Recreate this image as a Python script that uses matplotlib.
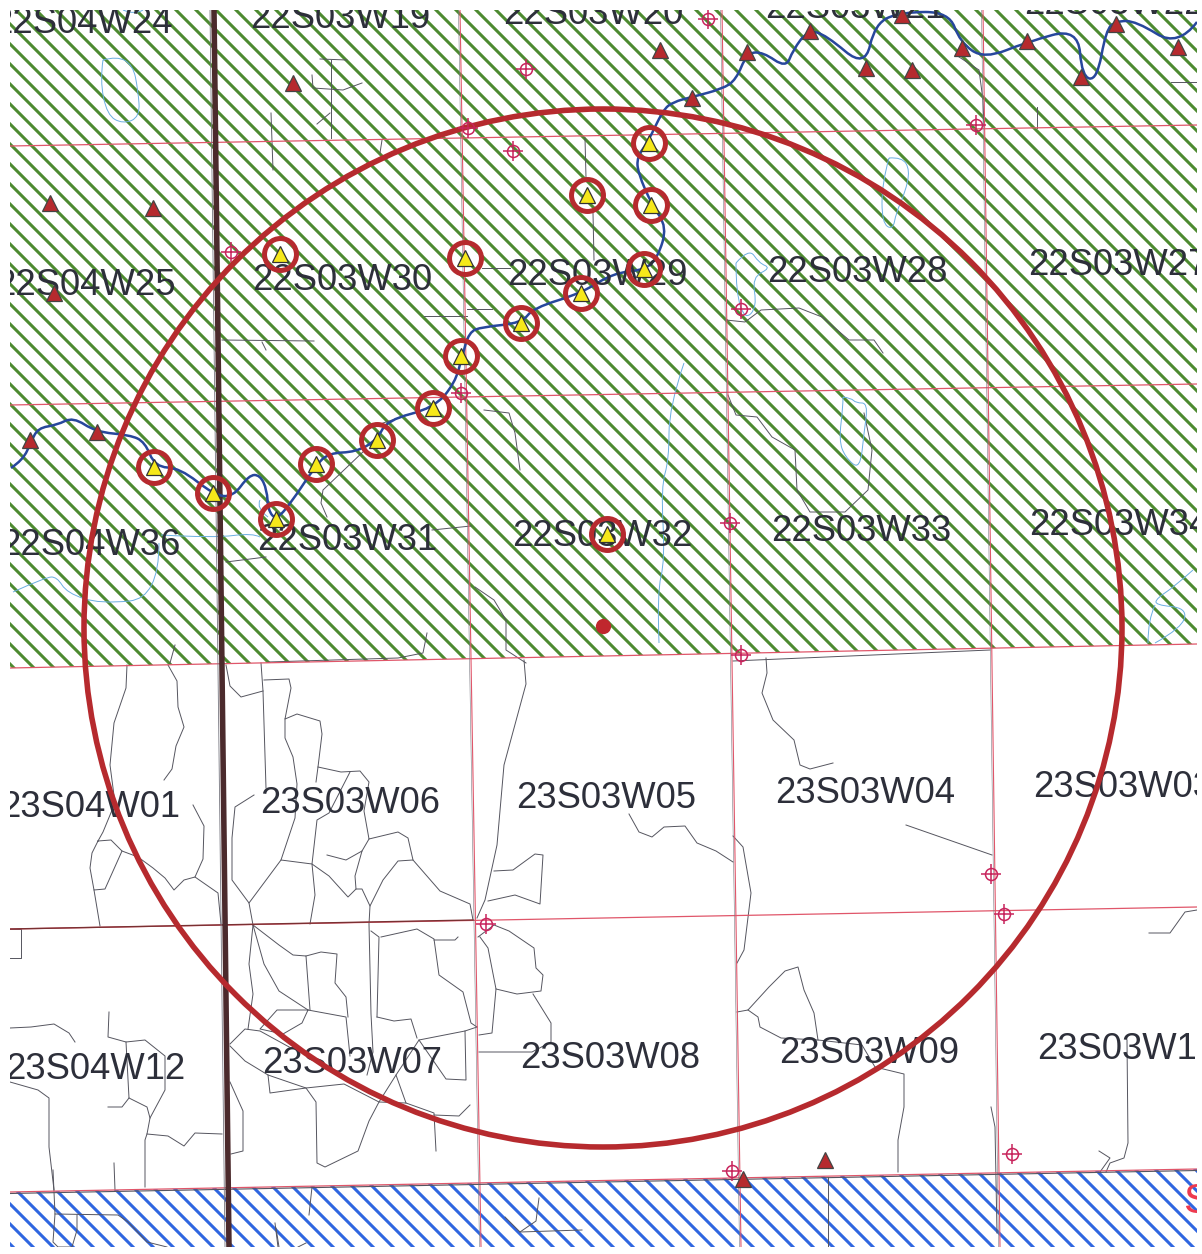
import numpy as np
import matplotlib
matplotlib.use('Agg')
import matplotlib.pyplot as plt
from matplotlib.patches import Circle, Polygon, PathPatch
from matplotlib.path import Path
from matplotlib.collections import LineCollection

#-page size and mapped area, in scan pixels
W, H = 1202, 1254
left, right, top, bottom = 10, 1197, 10, 1247

#-township labels: text, x of first letter, baseline
labels = [('22S04W24', -8, 33), ('22S03W19', 250, 28), ('22S03W20', 503, 24), ('22S03W21', 765, 18),
          ('22S03W22', 1024, 14), ('22S04W25', -5, 295), ('22S03W30', 252, 290), ('22S03W29', 507, 285),
          ('22S03W28', 767, 282), ('22S03W27', 1028, 275), ('22S04W36', 0, 555), ('22S03W31', 257, 550),
          ('22S03W32', 512, 546), ('22S03W33', 771, 541), ('22S03W34', 1029, 535), ('23S04W01', 0, 817),
          ('23S03W06', 260, 813), ('23S03W05', 516, 808), ('23S03W04', 775, 803), ('23S03W03', 1033, 797),
          ('23S04W12', 5, 1079), ('23S03W07', 262, 1073), ('23S03W08', 520, 1068), ('23S03W09', 779, 1063),
          ('23S03W10', 1037, 1059)]

#-wells inside the review circle
wells_x = [154, 213, 276, 316, 377, 433, 461, 521, 581, 644, 651, 649, 587, 465, 280, 607]
wells_y = [467, 493, 519, 464, 440, 408, 356, 323, 293, 269, 205, 143, 195, 258, 254, 534]
#-wells outside
other_x = [293, 50, 153, 54, 30, 97, 660, 692, 747, 810, 866, 912, 902, 962, 1027, 1081, 1116, 1178, 743, 825]
other_y = [83, 203, 208, 293, 440, 432, 50, 98, 52, 31, 68, 70, 15, 48, 41, 77, 24, 47, 1179, 1160]
#-target symbols
target_x = [708, 526, 468, 513, 976, 231, 741, 461, 730, 741, 991, 1004, 486, 732, 1012]
target_y = [19, 69, 128, 151, 125, 252, 309, 393, 523, 655, 874, 914, 924, 1171, 1154]

circle_x, circle_y, circle_r = 603, 628, 519
site_x, site_y = 603, 626

#-township and section lines, ((x0, y0), (x1, y1))
sect_h = [((10, 146), (1197, 125)), ((10, 405), (1197, 384)), ((10, 668), (1197, 644)),
          ((10, 929), (1197, 907)), ((10, 1192), (1197, 1169))]
sect_v = [((460, 10), (481, 1247)), ((722, 10), (741, 1247)), ((983, 10), (1000, 1247))]
county_line = ((214, 10), (229, 1247))
dark_road = ((10, 929), (473, 920))

green_area = [(10, 10), (1197, 10), (1197, 644), (10, 668)]
blue_area = [(10, 1192), (1197, 1169), (1197, 1247), (10, 1247)]

river = [(11, 468), (23, 460), (31, 442), (38, 428), (57, 425), (73, 417), (96, 432), (130, 435), (145, 442),
         (155, 467), (180, 468), (214, 495), (233, 497), (249, 475), (260, 475), (267, 490), (268, 510), (276, 520),
         (291, 503), (316, 465), (329, 453), (356, 452), (377, 440), (387, 420), (434, 408), (455, 383), (462, 357),
         (469, 332), (482, 327), (522, 323), (533, 308), (582, 293), (613, 273), (645, 270), (658, 257), (667, 227),
         (652, 205), (638, 173), (637, 157), (648, 142), (663, 110), (673, 102), (692, 97), (722, 89), (736, 80),
         (747, 53), (763, 52), (786, 68), (793, 50), (808, 30), (826, 35), (865, 68), (875, 23), (902, 12), (949, 12),
         (960, 42), (984, 59), (1027, 42), (1078, 28), (1082, 77), (1097, 80), (1106, 30), (1116, 21), (1136, 21),
         (1178, 47), (1197, 22)]

roads = [
    [(127, 665), (126, 688), (114, 723), (110, 765), (115, 803), (103, 832), (98, 841)],
    [(98, 841), (92, 853), (90, 868), (94, 890), (105, 889), (122, 851), (111, 840), (98, 841)],
    [(94, 890), (100, 926)],
    [(122, 851), (138, 857), (153, 868), (165, 878), (174, 890), (184, 880), (195, 877), (218, 893), (221, 924)],
    [(195, 877), (203, 859), (204, 826), (193, 805)],
    [(168, 665), (177, 681), (178, 707), (184, 727), (176, 746), (172, 769), (164, 780)],
    [(226, 665), (230, 686), (241, 697), (263, 691)],
    [(261, 663), (263, 691), (266, 788)],
    [(264, 680), (289, 679), (291, 688), (285, 719), (297, 714), (320, 721), (322, 734), (318, 767), (316, 782)],
    [(285, 719), (285, 738), (293, 757), (297, 784), (295, 818), (281, 860)],
    [(318, 767), (341, 772), (360, 771), (369, 782), (364, 811), (369, 839), (398, 832), (408, 838), (413, 860)],
    [(350, 772), (329, 813), (317, 820), (312, 864), (315, 895), (310, 924)],
    [(254, 795), (235, 807), (232, 838), (232, 880), (249, 903), (281, 860), (312, 864), (329, 876), (348, 897),
     (356, 889), (362, 889), (370, 906), (383, 880), (398, 861), (413, 860), (440, 891), (470, 904), (473, 920)],
    [(249, 903), (253, 925)],
    [(369, 839), (362, 851), (355, 876), (356, 889)],
    [(327, 855), (346, 860), (362, 851)],
    [(370, 906), (369, 924), (371, 1014), (373, 1052), (367, 1075)],
    [(253, 925), (249, 964), (253, 994), (248, 1029)],
    [(253, 925), (264, 964), (279, 991), (308, 1010), (346, 1017), (350, 1056)],
    [(253, 925), (279, 945), (293, 955), (306, 956), (310, 1010)],
    [(306, 956), (321, 952), (337, 954), (335, 983), (346, 997), (348, 1017)],
    [(308, 1010), (277, 1010), (260, 1029), (283, 1034), (302, 1023), (308, 1010)],
    [(230, 1044), (245, 1029), (260, 1031), (291, 1048)],
    [(230, 1046), (245, 1061), (268, 1075), (306, 1088), (344, 1084), (379, 1102), (406, 1103), (434, 1113), (436, 1151)],
    [(434, 1115), (459, 1116), (470, 1105)],
    [(268, 1075), (270, 1093), (306, 1088), (316, 1102), (317, 1163), (325, 1167), (358, 1151), (369, 1121), (379, 1102),
     (396, 1075), (406, 1103)],
    [(396, 1075), (419, 1040), (465, 1031), (477, 1027)],
    [(465, 1031), (466, 1080), (446, 1079), (419, 1040)],
    [(377, 1017), (394, 1021), (411, 1019), (417, 1038)],
    [(377, 1017), (379, 937), (371, 931)],
    [(381, 937), (417, 929), (434, 939), (439, 975), (463, 992), (471, 1023), (477, 1027)],
    [(434, 940), (455, 940), (458, 937)],
    [(10, 929), (21, 929), (21, 958), (10, 958)],
    [(10, 1028), (31, 1027), (54, 1024), (69, 1033), (75, 1042)],
    [(109, 1012), (108, 1037), (126, 1042), (145, 1040), (165, 1056), (165, 1090), (150, 1118), (147, 1134), (145, 1140),
     (145, 1187)],
    [(126, 1042), (129, 1098), (147, 1107), (150, 1118)],
    [(129, 1098), (122, 1107), (108, 1107)],
    [(147, 1134), (168, 1136), (184, 1146), (195, 1133), (222, 1134)],
    [(10, 1082), (38, 1090), (49, 1098), (49, 1147), (54, 1190)],
    [(114, 1163), (115, 1190)],
    [(230, 1082), (243, 1111), (243, 1151), (231, 1154)],
    [(524, 660), (526, 684), (504, 765), (497, 845), (485, 900), (477, 918)],
    [(494, 871), (513, 870), (535, 854), (543, 855), (540, 904), (515, 895), (488, 901)],
    [(478, 937), (494, 925), (509, 931), (534, 948), (536, 968), (543, 975), (541, 991), (517, 994), (496, 989),
     (488, 948), (480, 937)],
    [(496, 989), (492, 1033), (479, 1035)],
    [(533, 994), (551, 1023), (551, 1042), (532, 1052), (479, 1052)],
    [(766, 658), (767, 673), (762, 693), (773, 720), (794, 740), (800, 765), (810, 769), (833, 763)],
    [(629, 814), (639, 832), (652, 837), (664, 827), (685, 826), (697, 843), (716, 851), (733, 862)],
    [(733, 836), (743, 847), (751, 893), (744, 950), (737, 963)],
    [(906, 825), (992, 855)],
    [(737, 1012), (748, 1010), (769, 987), (785, 971), (798, 967), (804, 990), (814, 1013), (818, 1040)],
    [(748, 1010), (758, 1017), (760, 1027), (781, 1038), (818, 1040), (862, 1045), (875, 1067), (904, 1074), (904, 1107),
     (898, 1140), (898, 1172)],
    [(1127, 1040), (1128, 1143), (1124, 1158), (1110, 1163), (1106, 1172)],
    [(1099, 1151), (1110, 1158), (1100, 1172)],
    [(1149, 933), (1170, 933), (1185, 912), (1197, 910)],
    [(991, 1107), (995, 1127), (997, 1233)],
    [(828, 1177), (828, 1247)],
    [(222, 340), (314, 341)],
    [(262, 342), (266, 350)],
    [(424, 316), (467, 316)],
    [(467, 309), (490, 309)],
    [(226, 562), (266, 557)],
    [(327, 517), (321, 503), (323, 490), (365, 450)],
    [(383, 423), (432, 407)],
    [(432, 530), (471, 526)],
    [(484, 410), (509, 413), (515, 433), (520, 470)],
    [(475, 587), (494, 600), (506, 620), (506, 650), (526, 663)],
    [(427, 633), (423, 653), (398, 658), (268, 662)],
    [(175, 645), (170, 663)],
    [(331, 60), (331, 138)],
    [(312, 75), (313, 88), (343, 90), (362, 83)],
    [(317, 124), (330, 113)],
    [(271, 113), (273, 170)],
    [(382, 140), (380, 153)],
    [(320, 59), (347, 60)],
    [(585, 138), (586, 178)],
    [(593, 213), (594, 260)],
    [(482, 268), (510, 268)],
    [(468, 309), (492, 309)],
    [(726, 320), (745, 322), (761, 310), (799, 308), (822, 317), (849, 340), (874, 340), (883, 353)],
    [(728, 395), (736, 415), (757, 417), (772, 437), (795, 450), (797, 490), (810, 512), (845, 512), (868, 490),
     (872, 450), (864, 413)],
    [(956, 55), (979, 70), (983, 100), (984, 127)],
    [(1037, 107), (1037, 128)],
    [(1171, 82), (1197, 82)],
    [(733, 661), (990, 650)],
    #-inside the blue unit
    [(53, 1170), (55, 1214), (53, 1242), (58, 1247), (72, 1247), (77, 1230), (77, 1215)],
    [(55, 1214), (118, 1215), (128, 1222), (147, 1242), (167, 1247)],
    [(275, 1223), (278, 1247)],
    [(312, 1187), (309, 1215)],
    [(539, 1198), (536, 1221), (520, 1232), (505, 1217)],
    [(520, 1232), (582, 1230)],
    [(276, 1228), (279, 1247)],
    [(298, 1247), (306, 1243)],
]

lakes = [
    [(103, 60), (117, 56), (133, 65), (138, 90), (140, 117), (123, 124), (107, 115), (100, 80), (103, 60)],
    [(123, 10), (135, 15), (143, 10)],
    [(161, 535), (214, 538), (253, 533), (260, 537)],
    [(159, 543), (159, 598), (100, 604), (67, 593), (57, 577), (46, 577), (13, 592)],
    [(260, 500), (256, 508), (268, 517)],
    [(684, 363), (669, 407), (669, 460), (661, 487), (665, 560), (657, 593), (659, 643)],
    [(843, 397), (851, 398), (856, 403), (868, 403), (864, 433), (860, 470), (845, 457), (839, 440), (843, 407), (843, 397)],
    [(1193, 570), (1174, 587), (1157, 598), (1155, 605), (1187, 608), (1182, 628), (1155, 643)],
    [(1155, 605), (1148, 620), (1148, 643)],
    [(889, 158), (902, 157), (910, 170), (905, 193), (896, 213), (893, 230), (882, 223), (882, 183), (889, 158)],
    [(736, 263), (749, 248), (759, 263), (771, 268), (752, 277), (757, 307), (745, 320), (736, 293), (736, 263)],
]

red = '#b62a2e'
road_col = '#55555f'
lake_col = '#6aaee0'
sect_col = '#e0566a'


def hatch(ax, area, color, spacing=20, lw=2.2):
    '''
    Draw the 45 degree hatching of a map unit, clipped to its outline.
    '''
    clip = Polygon(area, closed=True, transform=ax.transData, facecolor='none', edgecolor='none')
    ax.add_patch(clip)
    segs = [[(c, 0), (c + H, H)] for c in np.arange(-H, W + spacing, spacing)]
    lc = LineCollection(segs, colors=color, linewidths=lw, zorder=1)
    ax.add_collection(lc)
    lc.set_clip_path(clip)


def curve(ax, pts, color, lw, zorder):
    '''
    Draw a traced line as a quadratic curve that keeps its two end points.
    '''
    verts = [pts[0]]
    codes = [Path.MOVETO]
    for i in range(1, len(pts) - 1):
        next_pt = pts[i + 1] if i == len(pts) - 2 else ((pts[i][0] + pts[i + 1][0]) / 2., (pts[i][1] + pts[i + 1][1]) / 2.)
        verts += [pts[i], next_pt]
        codes += [Path.CURVE3, Path.CURVE3]
    ax.add_patch(PathPatch(Path(verts, codes), facecolor='none', edgecolor=color, lw=lw, zorder=zorder))


fig = plt.figure(figsize=(W / 100., H / 100.), dpi=100, facecolor='white')
ax = fig.add_axes([left / W, (H - bottom) / H, (right - left) / W, (bottom - top) / H])
ax.set_xlim(left, right)
ax.set_ylim(bottom, top)
ax.axis('off')

hatch(ax, green_area, '#4d8a30')
hatch(ax, blue_area, '#2f66e0')

#-roads stay as traced so that the junctions meet
for r in roads:
    ax.plot(*zip(*r), color=road_col, lw=0.7, zorder=2, solid_joinstyle='round')
for l in lakes:
    if len(l) > 2:
        curve(ax, l, lake_col, 0.7, 2)

for s in sect_h:
    ax.plot(*zip(*s), color=sect_col, lw=0.9, zorder=3)
for s in sect_v:
    ax.plot(*zip(*s), color=sect_col, lw=0.8, zorder=3)
    ax.plot([s[0][0] - 1.5, s[1][0] - 1.5], [s[0][1], s[1][1]], color='#777780', lw=0.4, zorder=3)
ax.plot(*zip(*dark_road), color='#7a3032', lw=1.0, zorder=3)
ax.plot([sect_h[4][0][0], sect_h[4][1][0]], [sect_h[4][0][1] + 1.5, sect_h[4][1][1] + 1.5], color='#555560', lw=0.8, zorder=3)
ax.plot(*zip(*county_line), color='#4b2a2c', lw=4.0, zorder=4)
ax.plot([county_line[0][0] - 4, county_line[1][0] - 4], [county_line[0][1], county_line[1][1]],
        color='#777780', lw=0.6, zorder=3)

curve(ax, river, '#27479c', 1.8, 4)

for txt, x, y in labels:
    ax.text(x, y, txt, family='Liberation Sans', fontsize=26.2, color='#2d2f3a', va='baseline', ha='left',
            clip_on=True, zorder=5)
ax.text(1183, 1213, 'S', family='Liberation Sans', fontsize=30, color='#ee3a4f', va='baseline', ha='left',
        clip_on=True, zorder=5)

ax.add_patch(Circle((circle_x, circle_y), circle_r, facecolor='none', edgecolor=red, lw=4.0, zorder=6))
ax.plot(site_x, site_y, 'o', color='#c0272d', ms=11, mec='none', zorder=6)

ax.plot(target_x, target_y, 'o', mfc='none', mec='#c8245c', ms=8.6, mew=1.1, zorder=7)
ax.plot(target_x, target_y, '+', color='#c8245c', ms=14.4, mew=1.1, zorder=7)
ax.plot(other_x, other_y, '^', mfc=red, mec='#444444', ms=12, mew=0.9, zorder=7)
ax.plot(wells_x, wells_y, '^', mfc='#f6e81a', mec='#333333', ms=12, mew=0.9, zorder=7)
ax.plot(wells_x, wells_y, 'o', mfc='none', mec=red, ms=23, mew=3.6, zorder=8)

plt.savefig('out.png', dpi=100)
